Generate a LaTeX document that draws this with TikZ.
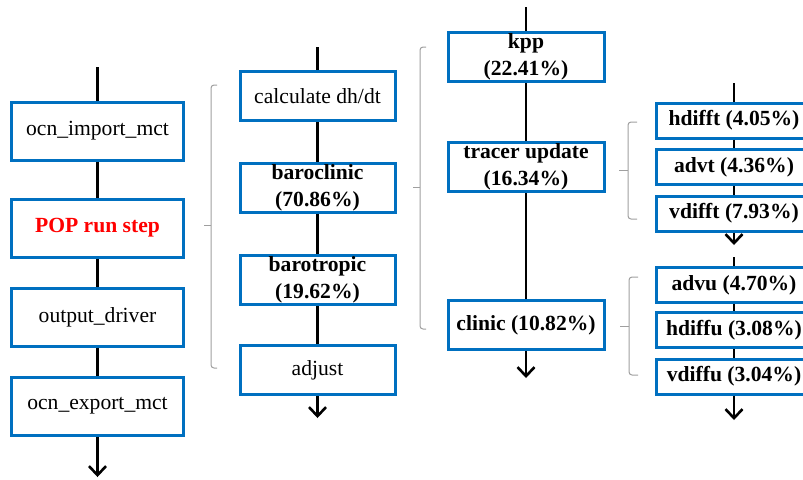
\documentclass[tikz,border=0pt]{standalone}
\usepackage{fontspec}
\setmainfont{Liberation Serif}
\usetikzlibrary{arrows.meta}
\definecolor{popblue}{RGB}{0,112,192}
\definecolor{popred}{RGB}{255,0,0}

\begin{document}
\begin{tikzpicture}[x=0.5pt,y=-0.5pt,
  every node/.style={draw=popblue,line width=1.5pt,fill=white,inner sep=0pt,align=center,font=\fontsize{10.8}{13.5}\selectfont},
  colA/.style={minimum width=86pt,minimum height=29pt},
  colB/.style={minimum width=77.5pt,minimum height=24.5pt,font=\fontsize{10.8}{13.5}\selectfont\bfseries},
  colC/.style={minimum width=78pt,minimum height=24.5pt,font=\fontsize{10.8}{13.5}\selectfont\bfseries},
  colD/.style={minimum width=78pt,minimum height=17.5pt,font=\fontsize{10.8}{13.5}\selectfont\bfseries},
  link/.style={line width=1.3pt},
  arr/.style={line width=1.3pt,-{Straight Barb[length=4.5pt,width=8.5pt]}},
  brace/.style={draw=gray!75,line width=0.5pt,rounded corners=1.5pt}]
\useasboundingbox (0,0) rectangle (803,479);

\coordinate (topA) at (97.5,67);
\coordinate (endA) at (97.5,477);
\node[colA] (import) at (97.5,131) {ocn\_import\_mct};
\node[colA] (runstep) at (97.5,228) {\textcolor{popred}{\textbf{POP run step}}};
\node[colA] (output) at (97.5,317) {output\_driver};
\node[colA] (export) at (97.5,406) {ocn\_export\_mct};

\coordinate (topB) at (317.5,47);
\coordinate (endB) at (317.5,418);
\node[colB,font=\fontsize{10.8}{13.5}\selectfont] (dhdt) at (317.5,96) {calculate dh/dt};
\node[colB] (baroclinic) at (317.5,188) {baroclinic\\(70.86\%)};
\node[colB] (barotropic) at (317.5,280) {barotropic\\(19.62\%)};
\node[colB,font=\fontsize{10.8}{13.5}\selectfont] (adjust) at (317.5,370) {adjust};

\coordinate (topC) at (526,7);
\coordinate (endC) at (526,378);
\node[colC] (kpp) at (526,57) {kpp\\(22.41\%)};
\node[colC] (tracer) at (526,167) {tracer update\\(16.34\%)};
\node[colC] (clinic) at (526,325) {clinic (10.82\%)};

\coordinate (topD) at (734,83);
\coordinate (endD) at (734,245);
\coordinate (topE) at (734,257);
\coordinate (endE) at (734,420);
\node[colD] (hdifft) at (734,120.5) {hdifft (4.05\%)};
\node[colD] (advt) at (734,167) {advt (4.36\%)};
\node[colD] (vdifft) at (734,213.5) {vdifft (7.93\%)};
\node[colD] (advu) at (734,285) {advu (4.70\%)};
\node[colD] (hdiffu) at (734,330) {hdiffu (3.08\%)};
\node[colD] (vdiffu) at (734,376.5) {vdiffu (3.04\%)};

\draw[link] (topA) -- (import);
\draw[link] (import) -- (runstep);
\draw[link] (runstep) -- (output);
\draw[link] (output) -- (export);
\draw[arr] (export) -- (endA);

\draw[link] (topB) -- (dhdt);
\draw[link] (dhdt) -- (baroclinic);
\draw[link] (baroclinic) -- (barotropic);
\draw[link] (barotropic) -- (adjust);
\draw[arr] (adjust) -- (endB);

\draw[link] (topC) -- (kpp);
\draw[link] (kpp) -- (tracer);
\draw[link] (tracer) -- (clinic);
\draw[arr] (clinic) -- (endC);

\draw[link] (topD) -- (hdifft);
\draw[link] (hdifft) -- (advt);
\draw[link] (advt) -- (vdifft);
\draw[arr] (vdifft) -- (endD);
\draw[link] (topE) -- (advu);
\draw[link] (advu) -- (hdiffu);
\draw[link] (hdiffu) -- (vdiffu);
\draw[arr] (vdiffu) -- (endE);

\draw[brace] (217,85) -- (211,85) -- (211,368) -- (217,368);
\draw[brace] (211,225) -- (204,225);
\draw[brace] (426,47) -- (420,47) -- (420,329) -- (426,329);
\draw[brace] (420,187) -- (413,187);
\draw[brace] (637,122) -- (628,122) -- (628,219) -- (637,219);
\draw[brace] (628,170) -- (619,170);
\draw[brace] (638,277) -- (629,277) -- (629,375) -- (638,375);
\draw[brace] (629,326) -- (620,326);
\end{tikzpicture}
\end{document}
